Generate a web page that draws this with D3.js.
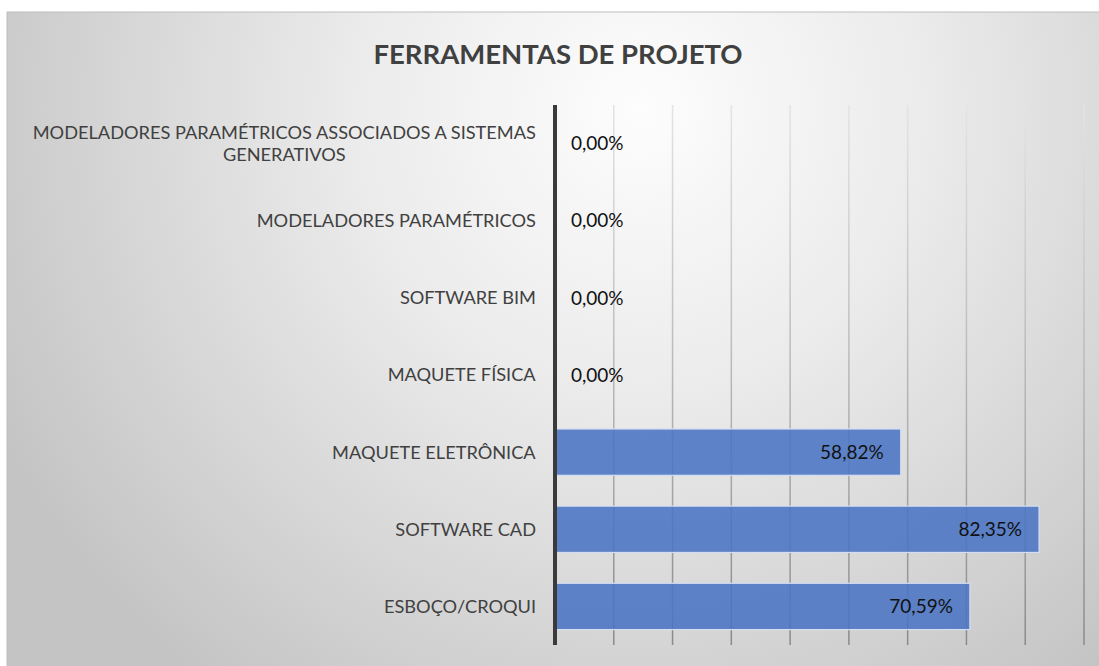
<!DOCTYPE html>
<html>
<head>
<meta charset="utf-8">
<script src="https://cdn.jsdelivr.net/npm/d3@7"></script>
<style>
  body { margin: 0; background: #fff; }
  svg { display: block; font-family: Lato, "Open Sans", sans-serif; }
</style>
</head>
<body>
<div id="chart"></div>
<script>
const categories = [
  "MODELADORES PARAMÉTRICOS ASSOCIADOS A SISTEMAS GENERATIVOS",
  "MODELADORES PARAMÉTRICOS",
  "SOFTWARE BIM",
  "MAQUETE FÍSICA",
  "MAQUETE ELETRÔNICA",
  "SOFTWARE CAD",
  "ESBOÇO/CROQUI"
];
const values = [0, 0, 0, 0, 58.82, 82.35, 70.59];
const gridTicks = [0, 10, 20, 30, 40, 50, 60, 70, 80, 90];
const chartTitle = "FERRAMENTAS DE PROJETO";

const W = 1099, H = 666;
const frame = { left: 7, top: 12 };
const plot = { left: 555, right: 1084, top: 105, bottom: 645 };

const svg = d3.select("#chart").append("svg")
  .attr("width", W).attr("height", H);

const defs = svg.append("defs");
const bg = defs.append("radialGradient")
  .attr("id", "bg")
  .attr("gradientUnits", "userSpaceOnUse")
  .attr("cx", 640).attr("cy", 110).attr("r", 720);
bg.append("stop").attr("offset", "0%").attr("stop-color", "#fdfdfd");
bg.append("stop").attr("offset", "40%").attr("stop-color", "#ebebeb");
bg.append("stop").attr("offset", "100%").attr("stop-color", "#c4c4c4");

const gl = defs.append("linearGradient")
  .attr("id", "grid")
  .attr("gradientUnits", "userSpaceOnUse")
  .attr("x1", 0).attr("y1", plot.top).attr("x2", 0).attr("y2", plot.bottom);
gl.append("stop").attr("offset", "0%").attr("stop-color", "#e4e4e4");
gl.append("stop").attr("offset", "45%").attr("stop-color", "#bcbcbc");
gl.append("stop").attr("offset", "100%").attr("stop-color", "#8a8a8a");

svg.append("rect")
  .attr("x", frame.left).attr("y", frame.top)
  .attr("width", W - frame.left + 2).attr("height", H - frame.top + 2)
  .attr("fill", "url(#bg)")
  .attr("stroke", "#bdbdbd").attr("stroke-width", 1);

svg.append("text")
  .attr("x", 558).attr("y", 64)
  .attr("text-anchor", "middle")
  .attr("font-size", 27.5).attr("font-weight", "bold")
  .attr("fill", "#404040")
  .text(chartTitle);

const x = d3.scaleLinear().domain([0, 90]).range([plot.left, plot.right]);
const y = d3.scaleBand().domain(categories).range([plot.top, plot.bottom]).paddingInner(0.4).paddingOuter(0.2);

// gridlines
svg.append("g")
  .selectAll("line")
  .data(gridTicks.slice(1))
  .join("line")
  .attr("x1", d => x(d)).attr("x2", d => x(d))
  .attr("y1", plot.top).attr("y2", plot.bottom)
  .attr("stroke", "url(#grid)").attr("stroke-width", 1.5);

// bars
svg.append("g")
  .selectAll("rect")
  .data(values)
  .join("rect")
  .attr("x", x(0))
  .attr("y", (d, i) => y(categories[i]))
  .attr("width", d => x(d) - x(0))
  .attr("height", y.bandwidth())
  .attr("fill", "#4a74c4")
  .attr("fill-opacity", 0.88)
  .attr("stroke", d => d > 0 ? "#d4def2" : "none")
  .attr("stroke-width", 1.2);

// value labels
svg.append("g")
  .selectAll("text")
  .data(values)
  .join("text")
  .attr("x", d => d > 0 ? x(d) - 17 : x(0) + 16)
  .attr("y", (d, i) => y(categories[i]) + y.bandwidth() / 2)
  .attr("dy", "0.35em")
  .attr("text-anchor", d => d > 0 ? "end" : "start")
  .attr("font-size", 19)
  .attr("fill", "#111")
  .text(d => d3.format(".2f")(d).replace(".", ",") + "%");

// category labels (wrapped like the original)
const labelRight = 536;
const labels = svg.append("g").attr("font-size", 18.2).attr("fill", "#404040");
categories.forEach((c, i) => {
  const cy = y(c) + y.bandwidth() / 2;
  let lines = [c];
  if (c.length > 40) {
    const words = c.split(" ");
    lines = [words.slice(0, -1).join(" "), words[words.length - 1]];
  }
  const t = labels.append("text").attr("text-anchor", "middle");
  lines.forEach((ln, k) => {
    t.append("tspan").attr("x", 0)
      .attr("y", cy + (k - (lines.length - 1) / 2) * 22)
      .attr("dy", "0.35em").text(ln);
  });
  const w = t.node().getBBox().width;
  t.attr("transform", `translate(${labelRight - w / 2},0)`);
});

// axis line
svg.append("line")
  .attr("x1", plot.left).attr("x2", plot.left)
  .attr("y1", plot.top).attr("y2", plot.bottom)
  .attr("stroke", "#3a3a3a").attr("stroke-width", 4);
</script>
</body>
</html>
